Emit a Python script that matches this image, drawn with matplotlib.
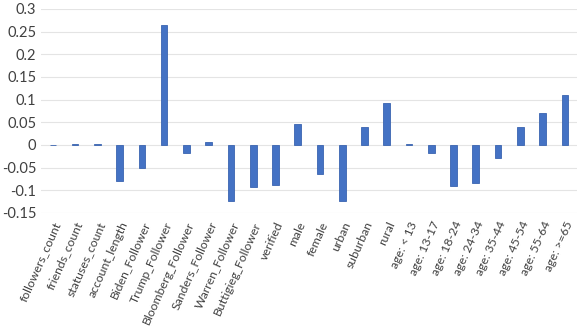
import matplotlib.pyplot as plt
import numpy as np

features = ['followers_count', 'friends_count', 'statuses_count', 'account_length',
            'Biden_Follower', 'Trump_Follower', 'Bloomberg_Follower', 'Sanders_Follower',
            'Warren_Follower', 'Buttigieg_Follower', 'verified', 'male', 'female', 'urban',
            'suburban', 'rural', 'age: < 13', 'age: 13-17', 'age: 18-24', 'age: 24-34',
            'age: 35-44', 'age: 45-54', 'age: 55-64', 'age: >=65']
coefs = [0.0005, 0.0015, 0.0015, -0.080, -0.051, 0.265, -0.019, 0.006,
         -0.124, -0.093, -0.088, 0.045, -0.065, -0.124, 0.040, 0.093,
         0.002, -0.018, -0.090, -0.085, -0.029, 0.039, 0.070, 0.110]
yticks = [0.3, 0.25, 0.2, 0.15, 0.1, 0.05, 0, -0.05, -0.1, -0.15]
ytick_labels = ['0.3', '0.25', '0.2', '0.15', '0.1', '0.05', '0', '-0.05', '-0.1', '-0.15']

plt.rcParams['font.family'] = ['Lato', 'DejaVu Sans']

fig = plt.figure(figsize=(5.8, 3.31), dpi=100)
ax = fig.add_axes([0.07, 0.357, 0.925, 0.616])

x = np.arange(len(features))
ax.bar(x, coefs, width=0.3, color='#4472C4', edgecolor='#3A64B0', linewidth=0.6, zorder=3)

ax.set_ylim(-0.15, 0.3)
ax.set_xlim(-0.55, len(features) - 0.45)
ax.set_yticks(yticks)
ax.set_yticklabels(ytick_labels, fontsize=10.5, color='#404040')
ax.yaxis.grid(True, color='#E4E4E4', linewidth=0.8, zorder=0)

ax.set_xticks(x)
ax.set_xticklabels(features, rotation=66, ha='right', rotation_mode='anchor',
                   fontsize=8.8, color='#404040')
ax.tick_params(axis='both', length=0, pad=3)
ax.tick_params(axis='x', pad=5)
for spine in ax.spines.values():
    spine.set_visible(False)

fig.savefig('out.png', dpi=100)
